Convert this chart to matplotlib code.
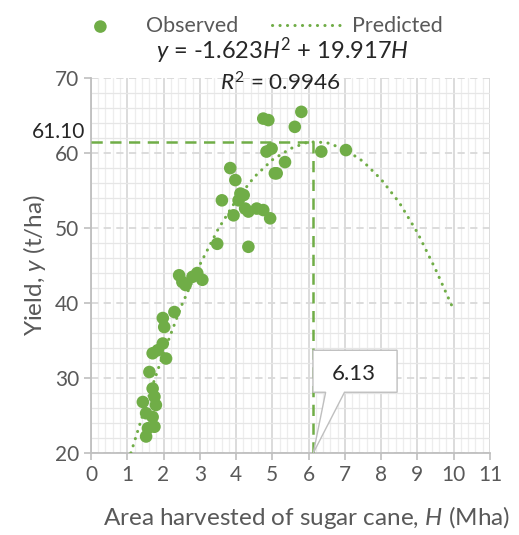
import matplotlib
matplotlib.use("Agg")
import matplotlib.pyplot as plt
from matplotlib.patches import Polygon
from matplotlib.ticker import MultipleLocator

# observed points (area harvested H in Mha, yield in t/ha)
obs_H = [1.61, 1.84, 1.70, 1.98, 2.07, 1.70, 1.75, 1.43, 1.79, 1.52, 1.70, 1.57,
         1.75, 1.52, 3.48, 2.43, 2.52, 2.80, 3.07, 2.93, 2.61, 2.30, 1.98, 2.02,
         3.84, 3.98, 3.61, 4.12, 4.21, 4.07, 3.93, 4.25, 4.34, 4.57, 4.75, 4.94,
         4.34, 5.07, 5.35, 4.84, 4.89, 4.75, 5.80, 5.62, 4.98, 5.12, 6.35, 7.03]
obs_y = [30.8, 33.7, 33.3, 34.6, 32.6, 28.6, 27.5, 26.8, 26.4, 25.3, 24.8, 23.3,
         23.5, 22.2, 47.9, 43.7, 42.8, 43.5, 43.1, 44.0, 42.4, 38.8, 38.0, 36.8,
         58.0, 56.4, 53.7, 54.6, 54.4, 53.7, 51.7, 52.6, 52.2, 52.6, 52.4, 51.3,
         47.5, 57.3, 58.8, 60.2, 64.4, 64.6, 65.5, 63.5, 60.6, 57.3, 60.2, 60.4]

# predicted trend line
pred_H = [1.1, 1.5, 2.0, 2.5, 3.0, 3.5, 4.0, 4.5, 5.0, 5.5, 6.0, 6.5, 7.0,
          7.5, 8.0, 8.5, 9.0, 9.5, 10.0]
pred_y = [20.0, 26.2, 33.3, 39.7, 45.1, 49.8, 53.7, 56.8, 59.1, 60.6, 61.5, 61.4,
          60.5, 58.9, 56.5, 53.4, 49.4, 44.5, 39.1]

peak_H = 6.13
peak_y = 61.10

green = "#70AD47"
grey_txt = "#595959"
grid_c = "#D9D9D9"

plt.rcParams["font.family"] = ["Lato", "DejaVu Sans"]
plt.rcParams["mathtext.fontset"] = "custom"
plt.rcParams["mathtext.rm"] = "Lato"
plt.rcParams["mathtext.it"] = "Lato:italic"

fig = plt.figure(figsize=(5.19, 5.35), dpi=100)
ax = fig.add_axes([0.1753, 0.1533, 0.944 - 0.1753, 0.854 - 0.1533])

ax.set_xlim(0, 11)
ax.set_ylim(20, 70)
ax.xaxis.set_major_locator(MultipleLocator(1))
ax.xaxis.set_minor_locator(MultipleLocator(0.2))
ax.yaxis.set_major_locator(MultipleLocator(10))
ax.yaxis.set_minor_locator(MultipleLocator(2))

ax.grid(which="minor", axis="x", color="#EDEDED", lw=0.9)
ax.grid(which="minor", axis="y", color="#E6E6E6", lw=0.9)
ax.grid(which="major", axis="x", color=grid_c, lw=1.3)
ax.grid(which="major", axis="y", color=grid_c, lw=1.3, ls=(0, (4, 3)))
ax.set_axisbelow(True)

for s in ["top", "right"]:
    ax.spines[s].set_visible(False)
for s in ["left", "bottom"]:
    ax.spines[s].set_color("#BFBFBF")
    ax.spines[s].set_linewidth(1.3)
ax.tick_params(which="major", length=5, color="#BFBFBF", labelcolor=grey_txt,
               labelsize=15, width=1.2)
ax.tick_params(which="minor", length=0)

# dashed guide lines to the maximum
top_y = max(pred_y)
ax.plot([0, peak_H], [top_y, top_y], color=green, lw=1.8, ls=(0, (4.5, 3)),
        clip_on=False, zorder=3)
ax.plot([peak_H, peak_H], [20, top_y], color=green, lw=1.8, ls=(0, (4.5, 3)),
        zorder=3)

ax.scatter(obs_H, obs_y, s=82, color=green, edgecolors="none", zorder=4,
           label="Observed")
ax.plot(pred_H, pred_y, color=green, lw=2.2, ls=(0, (0.05, 2.4)),
        dash_capstyle="round", zorder=3, label="Predicted")

# callout for the optimum area
call = Polygon([(6.12, 33.7), (8.44, 33.7), (8.44, 28.1), (6.99, 28.1),
                (peak_H, 20.0), (6.47, 28.1), (6.12, 28.1)],
               closed=True, facecolor="white", edgecolor="#BFBFBF", lw=1.0,
               zorder=5)
ax.add_patch(call)
ax.text(7.25, 30.5, f"{peak_H:.2f}", ha="center", va="center", fontsize=16,
        color="#262626", zorder=6)

ax.text(-0.15, top_y + 1.3, f"{peak_y:.2f}", ha="right", va="center",
        fontsize=15, color="#262626", clip_on=False)

ax.set_xlabel("Area harvested of sugar cane, $H$ (Mha)", fontsize=17.5,
              color=grey_txt, labelpad=14)
ax.xaxis.set_label_coords(0.54, -0.135)
ax.set_ylabel("Yield, $y$ (t/ha)", fontsize=17.5, color=grey_txt, labelpad=5)

fig.text(0.545, 0.905, r"$y$ = -1.623$H^2$ + 19.917$H$", ha="center",
         va="center", fontsize=17, color="#262626")
fig.text(0.54, 0.845, r"$R^2$ = 0.9946", ha="center", va="center",
         fontsize=16.2, color="#262626")

fig.legend(loc="center", bbox_to_anchor=(0.49, 0.951), ncol=2, frameon=False,
           fontsize=15.5, labelcolor=grey_txt, handlelength=3.2,
           handletextpad=0.5, columnspacing=1.6, markerscale=1.0)

fig.savefig("out.png", dpi=100)
